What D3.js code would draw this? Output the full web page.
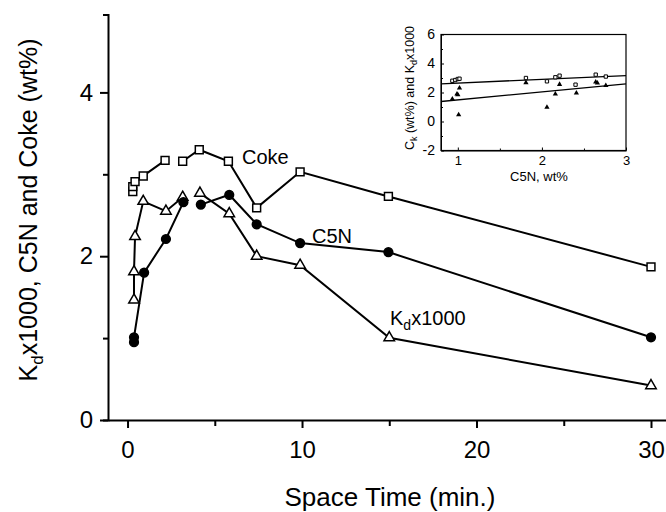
<!DOCTYPE html>
<html>
<head>
<meta charset="utf-8">
<script src="https://cdn.jsdelivr.net/npm/d3@7"></script>
<style>
  html, body { margin: 0; padding: 0; background: #fff; }
  svg { display: block; font-family: "Liberation Sans", Arial, Helvetica, sans-serif; }
</style>
</head>
<body>
<svg id="chart" width="666" height="512"></svg>
<script>
// Coke, C5N and deactivation constant versus space time (two runs each)
const cokeTime  = [0.3, 0.3, 0.43, 0.9, 2.15, 3.16, 4.11, 5.78, 7.4, 9.89, 14.95, 30];
const cokeValue = [2.79, 2.85, 2.91, 2.98, 3.17, 3.16, 3.30, 3.16, 2.59, 3.03, 2.73, 1.87];
const cokeRun   = [1, 1, 1, 1, 1, 2, 2, 2, 2, 2, 2, 2];

const c5nTime  = [0.37, 0.37, 0.95, 2.2, 3.2, 4.2, 5.83, 7.4, 9.89, 14.95, 30];
const c5nValue = [0.95, 1.01, 1.80, 2.21, 2.66, 2.63, 2.75, 2.39, 2.16, 2.05, 1.01];
const c5nRun   = [1, 1, 1, 1, 1, 2, 2, 2, 2, 2, 2];

const kdTime  = [0.37, 0.37, 0.43, 0.9, 2.2, 3.16, 4.15, 5.83, 7.4, 9.89, 15, 30];
const kdValue = [1.465, 1.81, 2.24, 2.67, 2.55, 2.72, 2.77, 2.52, 2.00, 1.89, 1.005, 0.42];
const kdRun   = [1, 1, 1, 1, 1, 1, 2, 2, 2, 2, 2, 2];

const xTicksMajor = [0, 10, 20, 30];
const xTicksMinor = [5, 15, 25];
const yTicksMajor = [0, 2, 4];
const yTicksMinor = [1, 3];

// Inset: coke and Kd x1000 against C5N, with linear fits
const insetCokeC5N = [0.935, 0.97, 1.0, 1.02, 1.81, 2.06, 2.16, 2.21, 2.40, 2.64, 2.76];
const insetCoke    = [2.81, 2.86, 2.93, 2.95, 3.0, 2.77, 3.05, 3.16, 2.54, 3.23, 3.10];
const insetKdC5N   = [0.935, 0.99, 1.0, 1.02, 1.01, 1.81, 2.06, 2.16, 2.21, 2.41, 2.64, 2.66, 2.76];
const insetKd      = [1.55, 1.90, 1.85, 2.31, 0.47, 2.68, 0.98, 1.9, 2.56, 1.97, 2.72, 2.66, 2.48];
const fitCoke = [2.396, 0.255];   // intercept, slope
const fitKd   = [0.94, 0.55];
const insetXTicks = [1, 2, 3];
const insetXMinor = [1.5, 2.5];
const insetYTicks = [-2, 0, 2, 4, 6];
const insetYMinor = [-1, 1, 3, 5];

const svg = d3.select("#chart");

// ---------- main panel ----------
const x = d3.scaleLinear().domain([-1.12, 30.86]).range([108, 666]);
const y = d3.scaleLinear().domain([0, 4.95]).range([420, 14.6]);

const gx = svg.append("g").attr("transform", "translate(0,420)");
gx.call(d3.axisBottom(x).tickValues(xTicksMajor).tickSize(8).tickSizeOuter(0).tickPadding(13).tickFormat(d3.format("d")));
gx.append("g").call(d3.axisBottom(x).tickValues(xTicksMinor).tickSize(6).tickSizeOuter(0).tickFormat(""))
  .select(".domain").remove();

const gy = svg.append("g").attr("transform", "translate(108,0)");
gy.call(d3.axisLeft(y).tickValues(yTicksMajor).tickSize(8).tickSizeOuter(5).tickPadding(7).tickFormat(d3.format("d")));
gy.append("g").call(d3.axisLeft(y).tickValues(yTicksMinor).tickSize(5).tickFormat(""))
  .select(".domain").remove();

svg.selectAll(".domain, .tick line").attr("stroke", "#000").attr("stroke-width", 2);
gx.selectAll(".tick text").attr("font-size", 24).attr("fill", "#000");
gy.selectAll(".tick text").attr("font-size", 24).attr("fill", "#000");

// axis titles
svg.append("text")
  .attr("x", 390).attr("y", 506)
  .attr("text-anchor", "middle").attr("font-size", 26)
  .text("Space Time (min.)");

const yt = svg.append("text")
  .attr("transform", "translate(37,210) rotate(-90)")
  .attr("text-anchor", "middle").attr("font-size", 25);
yt.append("tspan").text("K");
yt.append("tspan").attr("font-size", 17).attr("dy", 6).text("d");
yt.append("tspan").attr("dy", -6).text("x1000, C5N and Coke (wt%)");

// series
function runs(t, v, r) {
  const groups = d3.groups(t.map((d, i) => ({ t: d, v: v[i], r: r[i] })), d => d.r);
  return groups.map(g => g[1]);
}
const line = d3.line().x(d => x(d.t)).y(d => y(d.v));
const series = [
  { t: kdTime, v: kdValue, r: kdRun, sym: d3.symbolTriangle, size: 48, fill: "#fff" },
  { t: c5nTime, v: c5nValue, r: c5nRun, sym: d3.symbolCircle, size: 60, fill: "#000" },
  { t: cokeTime, v: cokeValue, r: cokeRun, sym: d3.symbolSquare, size: 62, fill: "#fff" }
];

const lines = svg.append("g");
series.forEach(s => {
  lines.selectAll(null).data(runs(s.t, s.v, s.r)).join("path")
    .attr("d", line).attr("fill", "none").attr("stroke", "#000").attr("stroke-width", 2);
});
const marks = svg.append("g");
series.forEach(s => {
  marks.selectAll(null).data(s.t.map((d, i) => ({ t: d, v: s.v[i] }))).join("path")
    .attr("transform", d => `translate(${x(d.t)},${y(d.v)})`)
    .attr("d", d3.symbol(s.sym, s.size))
    .attr("fill", s.fill).attr("stroke", "#000").attr("stroke-width", 1.5);
});

// series labels
svg.append("text").attr("x", 242).attr("y", 164).attr("font-size", 20).text("Coke");
svg.append("text").attr("x", 312).attr("y", 243).attr("font-size", 20).text("C5N");
const kl = svg.append("text").attr("x", 390).attr("y", 325).attr("font-size", 20);
kl.append("tspan").text("K");
kl.append("tspan").attr("font-size", 14).attr("dy", 5).text("d");
kl.append("tspan").attr("dy", -5).text("x1000");

// ---------- inset ----------
const ix = d3.scaleLinear().domain([0.8, 3]).range([441, 626]);
const iy = d3.scaleLinear().domain([-2, 6]).range([150.5, 34.5]);
const inset = svg.append("g");

inset.append("rect")
  .attr("x", ix(0.8)).attr("y", iy(6))
  .attr("width", ix(3) - ix(0.8)).attr("height", iy(-2) - iy(6))
  .attr("fill", "#fff").attr("stroke", "#000").attr("stroke-width", 1.2);

const igx = inset.append("g").attr("transform", `translate(0,${iy(-2)})`);
igx.call(d3.axisBottom(ix).tickValues(insetXTicks).tickSize(-3).tickSizeOuter(0).tickPadding(5).tickFormat(d3.format("d")));
igx.append("g").call(d3.axisBottom(ix).tickValues(insetXMinor).tickSize(-2).tickSizeOuter(0).tickFormat(""))
  .select(".domain").remove();
const igy = inset.append("g").attr("transform", `translate(${ix(0.8)},0)`);
igy.call(d3.axisLeft(iy).tickValues(insetYTicks).tickSize(-3).tickSizeOuter(0).tickPadding(6).tickFormat(d => String(d)));
igy.append("g").call(d3.axisLeft(iy).tickValues(insetYMinor).tickSize(-2).tickSizeOuter(0).tickFormat(""))
  .select(".domain").remove();
inset.selectAll(".domain, .tick line").attr("stroke", "#000").attr("stroke-width", 1);
igx.selectAll(".tick text").attr("font-size", 13).attr("fill", "#000");
igy.selectAll(".tick text").attr("font-size", 14).attr("fill", "#000");

inset.append("text").attr("x", 539).attr("y", 181)
  .attr("text-anchor", "middle").attr("font-size", 13).text("C5N, wt%");
const iyt = inset.append("text")
  .attr("transform", "translate(414,88) rotate(-90)")
  .attr("text-anchor", "middle").attr("font-size", 12.5);
iyt.append("tspan").text("C");
iyt.append("tspan").attr("font-size", 9).attr("dy", 3).text("k");
iyt.append("tspan").attr("dy", -3).text(" (wt%) and K");
iyt.append("tspan").attr("font-size", 9).attr("dy", 3).text("d");
iyt.append("tspan").attr("dy", -3).text("x1000");

// fitted lines
[fitCoke, fitKd].forEach(f => {
  inset.append("line")
    .attr("x1", ix(0.8)).attr("y1", iy(f[0] + f[1] * 0.8))
    .attr("x2", ix(3)).attr("y2", iy(f[0] + f[1] * 3))
    .attr("stroke", "#000").attr("stroke-width", 1.3);
});

inset.selectAll(null).data(insetKdC5N.map((d, i) => ({ c: d, v: insetKd[i] }))).join("path")
  .attr("transform", d => `translate(${ix(d.c)},${iy(d.v)})`)
  .attr("d", d3.symbol(d3.symbolTriangle, 12))
  .attr("fill", "#000");
inset.selectAll(null).data(insetCokeC5N.map((d, i) => ({ c: d, v: insetCoke[i] }))).join("path")
  .attr("transform", d => `translate(${ix(d.c)},${iy(d.v)})`)
  .attr("d", d3.symbol(d3.symbolSquare, 11))
  .attr("fill", "#fff").attr("stroke", "#000").attr("stroke-width", 1);
</script>
</body>
</html>
